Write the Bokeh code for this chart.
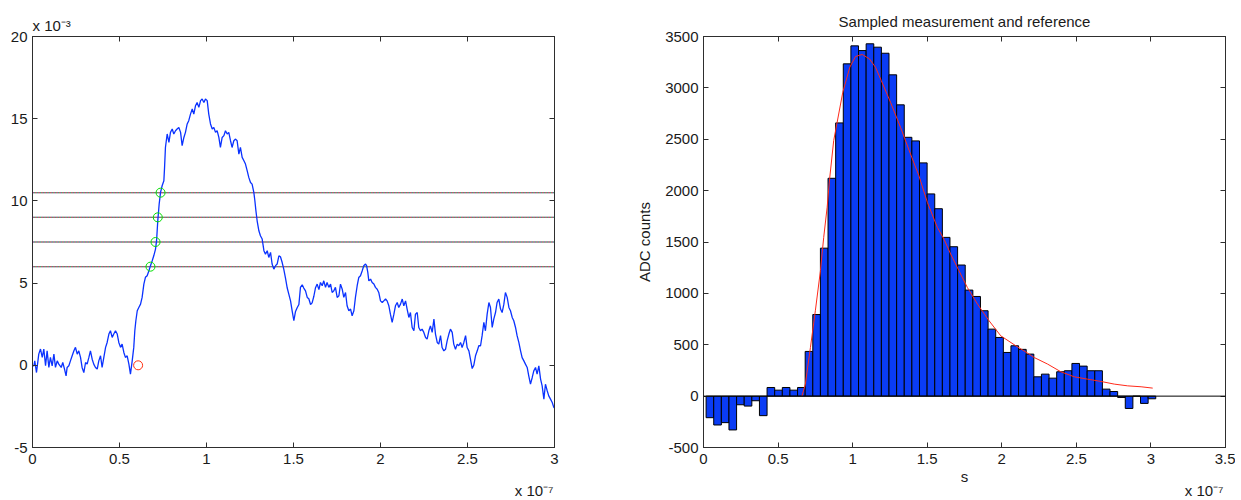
from bokeh.plotting import figure
from bokeh.layouts import row
from bokeh.models import LinearAxis, FixedTicker, Range1d, Span, CustomJSTickFormatter, Title
from bokeh.embed import file_html
from bokeh.resources import INLINE

# ---------------- data (time in units of 1e-7 s, signal in units of 1e-3) ----------------
trace_t = [
    0.000, 0.008, 0.013, 0.023, 0.036, 0.046, 0.056, 0.065, 0.075, 0.084,
    0.094, 0.103, 0.113, 0.123, 0.132, 0.142, 0.151, 0.165, 0.174, 0.184,
    0.193, 0.199, 0.209, 0.218, 0.228, 0.238, 0.247, 0.257, 0.266, 0.276,
    0.285, 0.295, 0.305, 0.314, 0.324, 0.333, 0.343, 0.352, 0.362, 0.372,
    0.381, 0.391, 0.400, 0.410, 0.420, 0.429, 0.439, 0.448, 0.458, 0.467,
    0.477, 0.487, 0.496, 0.506, 0.515, 0.525, 0.534, 0.544, 0.554, 0.563,
    0.573, 0.582, 0.588, 0.594, 0.602, 0.611, 0.621, 0.630, 0.640, 0.649,
    0.659, 0.669, 0.678, 0.688, 0.697,
    0.707, 0.713, 0.720, 0.728, 0.736, 0.745, 0.755, 0.759, 0.764, 0.774,
    0.784, 0.793, 0.803, 0.812, 0.822, 0.831, 0.841, 0.851, 0.860, 0.870,
    0.879, 0.889, 0.898, 0.908, 0.918, 0.927, 0.937, 0.946, 0.956, 0.966,
    0.975, 0.985, 0.994, 1.004, 1.013, 1.023, 1.033, 1.042, 1.052, 1.061,
    1.071, 1.080, 1.090, 1.100, 1.109, 1.119, 1.128, 1.138, 1.147, 1.157,
    1.167, 1.176, 1.186, 1.195, 1.205, 1.215, 1.224, 1.234, 1.243, 1.253,
    1.262, 1.272, 1.278, 1.284, 1.291, 1.301, 1.310, 1.320,
    1.330, 1.339, 1.349, 1.358, 1.368, 1.377, 1.387, 1.397, 1.406, 1.416,
    1.425, 1.435, 1.444, 1.454, 1.464, 1.473, 1.483, 1.492, 1.502, 1.511,
    1.521, 1.531, 1.540, 1.550, 1.559, 1.569, 1.579, 1.588, 1.598, 1.607,
    1.617, 1.626, 1.636, 1.646,
    1.655, 1.665, 1.674, 1.684, 1.693, 1.703, 1.713, 1.722, 1.732, 1.741,
    1.751, 1.761, 1.770, 1.780, 1.789, 1.799, 1.808, 1.818, 1.828, 1.837,
    1.847, 1.856, 1.866, 1.875, 1.885, 1.895, 1.904, 1.914, 1.920, 1.927,
    1.933, 1.943, 1.952, 1.962, 1.971, 1.981, 1.990, 2.000, 2.010, 2.019,
    2.029, 2.038, 2.048, 2.057, 2.067, 2.077, 2.086, 2.096, 2.105, 2.115,
    2.125, 2.134, 2.144, 2.153, 2.163, 2.172, 2.182, 2.192, 2.201, 2.211,
    2.220, 2.230, 2.239, 2.249, 2.259, 2.268, 2.278, 2.287, 2.297, 2.307,
    2.316, 2.326, 2.335, 2.345, 2.354, 2.364, 2.374, 2.383, 2.393, 2.402,
    2.412, 2.421, 2.431, 2.441, 2.450, 2.460, 2.469, 2.479, 2.489, 2.498,
    2.508, 2.517, 2.527, 2.536, 2.546, 2.556, 2.565, 2.575, 2.584, 2.594,
    2.603, 2.613, 2.623, 2.632, 2.642, 2.651, 2.661, 2.670, 2.680, 2.690,
    2.699, 2.709, 2.718, 2.728, 2.738, 2.747, 2.757, 2.766, 2.776, 2.785,
    2.795, 2.805, 2.814, 2.824, 2.833, 2.843, 2.852, 2.862, 2.872, 2.881,
    2.891, 2.900, 2.910, 2.920, 2.929, 2.939, 2.948, 2.958, 2.967, 2.977,
    2.987, 2.996, 3.000,
]
trace_v = [
    0.00, -0.03, 0.27, -0.44, 0.68, 0.99, 0.48, 0.99, -0.03, 0.88,
    -0.13, 0.48, -0.03, 0.68, -0.13, 0.27, 0.07, -0.13, 0.17, -0.23,
    -0.64, -0.13, -0.03, 0.27, 0.58, 0.88, 1.09, 0.68, 0.88, 0.48,
    -0.13, -0.44, 0.17, 0.07, 0.48, 0.88, 0.37, 0.07, -0.13, -0.23,
    0.27, 0.58, -0.13, 0.48, 1.09, 1.39, 1.90, 2.10, 1.70, 1.90,
    2.10, 1.90, 1.39, 1.09, 1.29, 0.78, 0.48, 0.58, 0.07, -0.54,
    0.27, 1.09, 2.10, 2.71, 3.32, 3.52, 3.72, 4.13, 4.94, 5.35,
    5.45, 5.75, 6.06, 6.36, 6.66,
    7.07, 7.58, 8.79, 9.81, 10.52, 10.92, 11.23, 12.04, 13.25, 14.07,
    13.56, 14.17, 14.37, 14.07, 14.27, 14.37, 14.47, 14.17, 13.36, 13.86,
    14.17, 14.68, 14.88, 15.28, 15.59, 15.28, 15.79, 15.99, 15.69, 16.10,
    16.20, 15.99, 16.20, 16.10, 15.28, 14.68, 14.37, 14.47, 14.17, 14.27,
    13.86, 13.25, 13.86, 13.97, 14.27, 14.07, 14.17, 13.66, 13.25, 13.66,
    13.76, 13.66, 12.85, 13.25, 12.65, 12.44, 12.24, 11.83, 11.43, 11.12,
    11.02, 10.52, 10.01, 9.40, 8.79, 8.18, 7.88, 7.68,
    6.97, 6.76, 6.97, 6.56, 6.87, 6.16, 5.85, 6.06, 6.16, 6.66,
    6.60, 6.25, 5.85, 5.30, 4.70, 4.33, 3.92, 3.32, 2.71, 3.25,
    3.50, 3.70, 4.74, 4.90, 4.70, 4.53, 4.13, 4.05, 3.70, 3.80,
    4.20, 4.70, 4.94, 4.60,
    5.04, 4.84, 5.14, 4.74, 5.04, 4.74, 4.94, 4.43, 4.53, 4.74,
    4.13, 4.23, 4.94, 4.63, 4.13, 4.43, 3.62, 3.32, 3.42, 3.01,
    3.32, 4.13, 4.84, 5.34, 5.45, 5.75, 6.06, 6.16, 6.06, 5.65,
    5.14, 5.24, 5.04, 4.94, 4.74, 4.63, 4.43, 3.92, 3.82, 3.92,
    4.03, 3.92, 3.62, 3.11, 2.61, 3.11, 3.62, 3.82, 3.52, 3.72,
    4.03, 3.62, 3.92, 3.42, 2.91, 3.21, 2.30, 2.10, 3.11, 3.21,
    2.30, 2.10, 2.20, 2.00, 1.69, 1.59, 2.10, 2.40, 2.00, 2.81,
    1.90, 1.39, 1.29, 1.80, 1.08, 0.88, 0.98, 1.49, 1.90, 2.20,
    2.00, 1.29, 0.98, 1.29, 1.19, 1.39, 1.08, 1.39, 1.80, 1.08,
    0.88, 0.37, -0.20, 0.00, 0.58, 0.88, 1.19, 1.19, 1.80, 2.61,
    2.10, 3.11, 3.82, 3.52, 2.30, 2.81, 3.21, 3.82, 4.03, 3.42,
    3.21, 3.72, 4.43, 4.13, 3.52, 3.32, 2.91, 2.71, 2.30, 1.80,
    1.39, 0.88, 0.47, 0.27, 0.07, -0.13, -0.64, -1.15, -0.74, -0.34,
    -0.13, -0.54, -0.03, -0.84, -1.25, -2.06, -1.15, -1.55, -1.86, -2.06,
    -2.26, -2.56, -2.60,
]
levels = [10.5, 9.0, 7.5, 6.0]
cross_t = [0.736, 0.720, 0.707, 0.678]
start_t = [0.607]
start_v = [0.0]

bar_t = [
    0.043, 0.0941, 0.1452, 0.1963, 0.2474, 0.2985, 0.3496, 0.4007, 0.4518, 0.5029,
    0.554, 0.6051, 0.6562, 0.7073, 0.7584, 0.8095, 0.8606, 0.9117, 0.9628, 1.0139,
    1.065, 1.1161, 1.1672, 1.2183, 1.2694, 1.3205, 1.3716, 1.4227, 1.4738, 1.5249,
    1.576, 1.6271, 1.6782, 1.7293, 1.7804, 1.8315, 1.8826, 1.9337, 1.9848, 2.0359,
    2.087, 2.1381, 2.1892, 2.2403, 2.2914, 2.3425, 2.3936, 2.4447, 2.4958, 2.5469,
    2.598, 2.6491, 2.7002, 2.7513, 2.8024, 2.8535, 2.9046, 2.9557, 3.0068,
]
bar_v = [
    -210, -281, -258, -329, -84, -97, -45, -190, 84, 58,
    84, 58, 84, 435, 794, 1440, 2120, 2659, 3234, 3409,
    3363, 3429, 3396, 3337, 3127, 2835, 2519, 2484, 2270, 1968,
    1824, 1545, 1454, 1276, 1032, 970, 831, 652, 571, 425,
    490, 455, 409, 188, 214, 175, 237, 247, 318, 292,
    247, 247, 68, 45, -13, -120, 0, -71, -26,
]
ref_t = [0.66, 0.683, 0.717, 0.750, 0.784, 0.806, 0.829, 0.846, 0.873, 0.934,
         0.981, 1.019, 1.064, 1.113, 1.153, 1.192, 1.254, 1.321, 1.388, 1.444,
         1.501, 1.568, 1.612, 1.657, 1.713, 1.769, 1.837, 1.915, 1.993, 2.094,
         2.183, 2.217, 2.307, 2.396, 2.486, 2.575, 2.665, 2.754, 2.844, 2.934, 3.012]
ref_v = [0, 117, 473, 831, 1220, 1545, 1837, 2120, 2487, 2958,
         3201, 3305, 3325, 3282, 3201, 3071, 2860, 2616, 2357, 2146,
         1886, 1642, 1529, 1383, 1220, 1058, 896, 733, 587, 490,
         409, 376, 312, 237, 188, 165, 143, 117, 100, 91, 78]

x1_ticks = [0, 0.5, 1, 1.5, 2, 2.5, 3]
y1_ticks = [-5, 0, 5, 10, 15, 20]
x2_ticks = [0, 0.5, 1, 1.5, 2, 2.5, 3, 3.5]
y2_ticks = [-500, 0, 500, 1000, 1500, 2000, 2500, 3000, 3500]
title_text = "Sampled measurement and reference"
ylabel2 = "ADC counts"
xlabel2 = "s"
exp_y1 = "x 10\u207b\u00b3"
exp_x = "x 10\u207b\u2077"

# ---------------- styling ----------------
FONT = "Liberation Sans"
TXT = "#1a1a1a"
AX = "#2e2e2e"
FS = "15px"


def style(p, xt, yt):
    p.xgrid.visible = False
    p.ygrid.visible = False
    p.outline_line_color = AX
    p.outline_line_width = 1
    p.background_fill_color = "white"
    p.border_fill_color = "white"
    bottom = p.below[0]
    left = p.left[0]
    bottom.ticker = FixedTicker(ticks=xt)
    left.ticker = FixedTicker(ticks=yt)
    bottom.formatter = CustomJSTickFormatter(code="return tick.toString();")
    left.formatter = CustomJSTickFormatter(code="return tick.toString();")
    top = LinearAxis(ticker=FixedTicker(ticks=xt),
                     formatter=CustomJSTickFormatter(code="return '';"))
    right = LinearAxis(ticker=FixedTicker(ticks=yt),
                       formatter=CustomJSTickFormatter(code="return '';"))
    p.add_layout(top, "above")
    p.add_layout(right, "right")
    for ax in (bottom, left, top, right):
        ax.major_tick_in = 5
        ax.major_tick_out = 0
        ax.minor_tick_line_color = None
        ax.axis_line_color = AX
        ax.major_tick_line_color = AX
        ax.major_label_text_font = FONT
        ax.major_label_text_color = TXT
        ax.major_label_text_font_size = FS
        ax.axis_label_text_font = FONT
        ax.axis_label_text_font_size = FS
        ax.axis_label_text_font_style = "normal"
        ax.axis_label_text_color = TXT
    top.major_label_standoff = 0
    right.major_label_standoff = 0
    bottom.major_label_standoff = 6
    left.major_label_standoff = 5
    return bottom, left


def text_title(text, align, standoff, offset=0):
    return Title(text=text, align=align, standoff=standoff, offset=offset,
                 text_font=FONT, text_font_size=FS, text_font_style="normal",
                 text_color=TXT)


# ---------------- left figure ----------------
p1 = figure(width=628, height=500, x_range=Range1d(0, 3), y_range=Range1d(-5, 20),
            output_backend="svg", toolbar_location=None,
            min_border_left=32, min_border_right=74, min_border_top=36, min_border_bottom=53)
b1, l1 = style(p1, x1_ticks, y1_ticks)
p1.title = text_title(exp_y1, "left", 6)
b1.axis_label = " "
b1.axis_label_standoff = 1

for lv in levels:
    p1.line([0, 3], [lv, lv], line_color="#7a7a7a", line_width=1)
    p1.line([0, 3], [lv, lv], line_color="#3050ff", line_width=1.2, line_dash="1 2", line_dash_offset=2)
    p1.line([0, 3], [lv, lv], line_color="#30d030", line_width=1.2, line_dash="1 2", line_dash_offset=1)
    p1.line([0, 3], [lv, lv], line_color="#ff3050", line_width=1.2, line_dash="1 2", line_dash_offset=0)

p1.line(trace_t, trace_v, line_color="#0a32ff", line_width=1.3)
p1.scatter(cross_t, levels, marker="circle", size=9, fill_color=None,
           line_color="#00e000", line_width=1)
p1.scatter(start_t, start_v, marker="circle", size=9, fill_color=None,
           line_color="#ff3010", line_width=1)
p1.add_layout(text_title(exp_x, "right", -16, 1), "below")

# ---------------- right figure ----------------
p2 = figure(width=607, height=500, x_range=Range1d(0, 3.5), y_range=Range1d(-500, 3500),
            output_backend="svg", toolbar_location=None,
            min_border_left=75, min_border_right=10, min_border_top=36, min_border_bottom=53)
b2, l2 = style(p2, x2_ticks, y2_ticks)
p2.title = text_title(title_text, "center", 13)
l2.axis_label = ylabel2
l2.axis_label_standoff = 9
b2.axis_label = xlabel2
b2.axis_label_standoff = 1

p2.vbar(x=bar_t, top=bar_v, bottom=0, width=0.0511, fill_color="#0a3cf5",
        line_color="black", line_width=1)
p2.add_layout(Span(location=0, dimension="width", line_color="black", line_width=1))
p2.line(ref_t, ref_v, line_color="#ff2a1a", line_width=1)
p2.add_layout(text_title(exp_x, "right", -16, 2), "below")

layout = row(p1, p2)
open("out.html", "w").write(file_html(layout, INLINE))
